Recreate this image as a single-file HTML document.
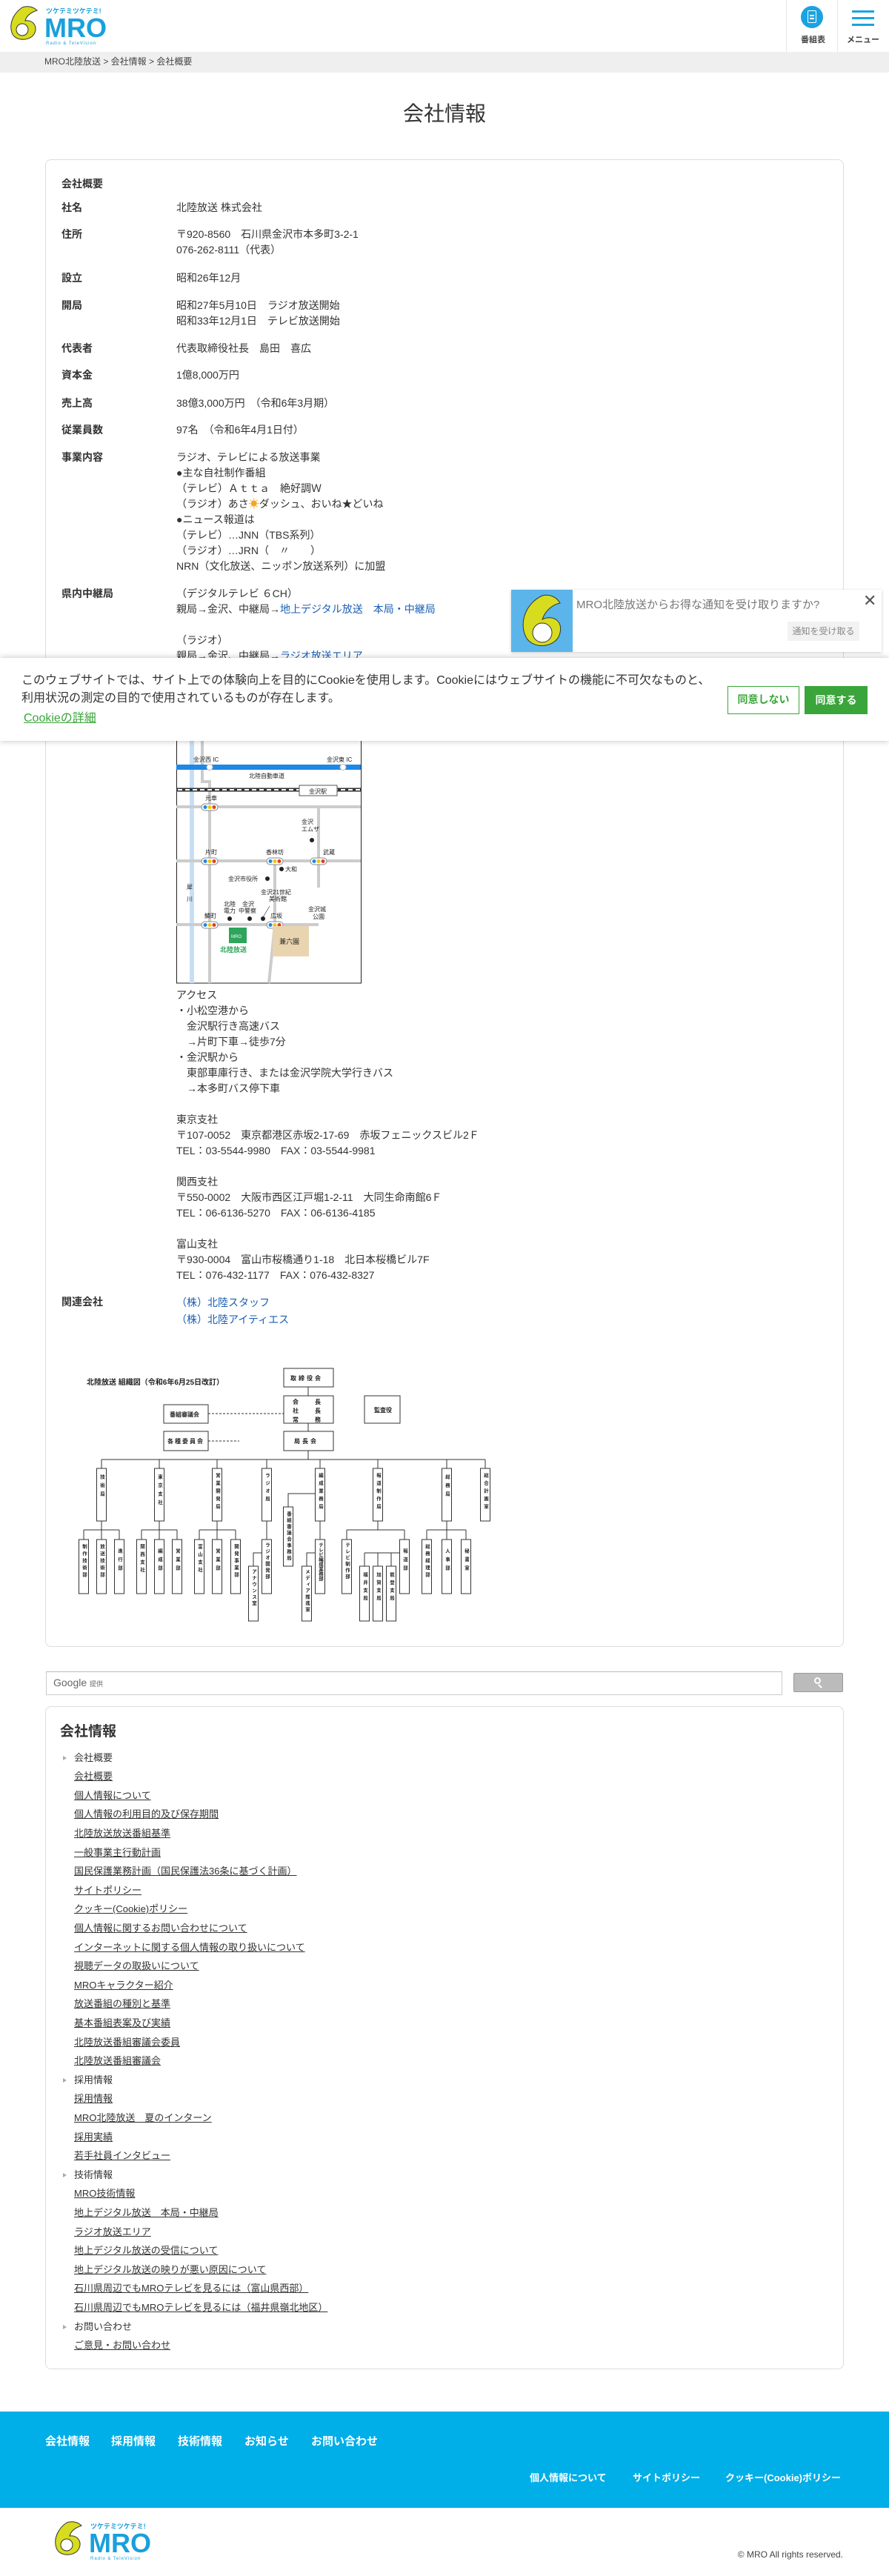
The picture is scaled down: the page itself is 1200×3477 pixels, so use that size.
<!DOCTYPE html>
<html><head><meta charset="utf-8"><style>
*{margin:0;padding:0;box-sizing:border-box}
body{width:1200px;height:3477px;position:relative;background:#fff;font-family:"Liberation Sans","Noto Sans CJK JP",sans-serif;color:#333;overflow:hidden}
.a{position:absolute;white-space:nowrap}
.t{font-size:14px;line-height:21px}
.b{font-weight:bold}
.lk{color:#1a5fb4}
.sl{position:absolute;left:100px;font-size:13px;color:#333;text-decoration:underline;white-space:nowrap;line-height:16px}
.sh{position:absolute;left:100px;font-size:13px;color:#333;white-space:nowrap;line-height:16px}
.tri{position:absolute;left:85px;width:0;height:0;border-left:5px solid #aaa;border-top:3px solid transparent;border-bottom:3px solid transparent}
</style></head><body>

<!-- header -->
<svg class="a" style="left:10px;top:6px" width="142" height="56" viewBox="0 0 142 56">
<path d="M20 4 C8 12 2 26 6 38 C10 50 30 50 36 40 C42 30 34 20 24 22 C26 14 34 10 40 8 C34 2 26 2 20 4Z" fill="#d7dc1f" stroke="#333" stroke-width="1"/>
<circle cx="20" cy="34" r="8" fill="#fff" stroke="#333"/>
<text x="52" y="12" font-size="9" fill="#19a0dc" font-weight="bold">ツケテミツケテミ!</text>
<text x="50" y="44" font-size="36" fill="#19a0dc" font-weight="bold" font-family="Liberation Sans">MRO</text>
<text x="52" y="54" font-size="6" fill="#19a0dc" letter-spacing="1">Radio &amp; TeleVision</text>
</svg>
<div class="a" style="left:1061px;top:0;width:1px;height:70px;background:#e5e5e5"></div>
<div class="a" style="left:1130px;top:0;width:1px;height:70px;background:#e5e5e5"></div>
<div class="a" style="left:1081px;top:8px;width:30px;height:30px;border-radius:50%;background:#1aa3e0"></div>
<div class="a" style="left:1090px;top:14px;width:12px;height:17px;border:1.5px solid #fff;border-radius:2px"></div>
<div class="a" style="left:1093px;top:20px;width:6px;height:1.5px;background:#fff"></div>
<div class="a" style="left:1093px;top:24px;width:6px;height:1.5px;background:#fff"></div>
<div class="a b" style="left:1081px;top:45px;font-size:11px;color:#444;width:30px;text-align:center">番組表</div>
<div class="a" style="left:1150px;top:14px;width:30px;height:2.5px;background:#1aa3e0"></div>
<div class="a" style="left:1150px;top:23px;width:30px;height:2.5px;background:#1aa3e0"></div>
<div class="a" style="left:1150px;top:32px;width:30px;height:2.5px;background:#1aa3e0"></div>
<div class="a b" style="left:1140px;top:45px;font-size:11px;color:#444;width:50px;text-align:center">メニュー</div>
<div class="a" style="left:0;top:70px;width:1200px;height:28px;background:#efefef"></div>
<div class="a" style="left:60px;top:73px;font-size:12px;line-height:20px;color:#444">MRO北陸放送 &gt; 会社情報 &gt; 会社概要</div>

<div class="a" style="left:0;top:136px;width:1200px;text-align:center;font-size:28px;line-height:36px;color:#333">会社情報</div>

<!-- card -->
<div class="a" style="left:61px;top:215px;width:1078px;height:2008px;border:1px solid #ddd;border-radius:8px"></div>

<div class="a t b" style="left:83px;top:238px">会社概要</div>
<div class="a t b" style="left:83px;top:270px">社名</div><div class="a t" style="left:238px;top:270px">北陸放送 株式会社</div>
<div class="a t b" style="left:83px;top:306px">住所</div><div class="a t" style="left:238px;top:306px">〒920-8560　石川県金沢市本多町3-2-1<br>076-262-8111（代表）</div>
<div class="a t b" style="left:83px;top:365px">設立</div><div class="a t" style="left:238px;top:365px">昭和26年12月</div>
<div class="a t b" style="left:83px;top:402px">開局</div><div class="a t" style="left:238px;top:402px">昭和27年5月10日　ラジオ放送開始<br>昭和33年12月1日　テレビ放送開始</div>
<div class="a t b" style="left:83px;top:460px">代表者</div><div class="a t" style="left:238px;top:460px">代表取締役社長　島田　喜広</div>
<div class="a t b" style="left:83px;top:496px">資本金</div><div class="a t" style="left:238px;top:496px">1億8,000万円</div>
<div class="a t b" style="left:83px;top:534px">売上高</div><div class="a t" style="left:238px;top:534px">38億3,000万円　（令和6年3月期）</div>
<div class="a t b" style="left:83px;top:570px">従業員数</div><div class="a t" style="left:238px;top:570px">97名　（令和6年4月1日付）</div>
<div class="a t b" style="left:83px;top:607px">事業内容</div><div class="a t" style="left:238px;top:607px">ラジオ、テレビによる放送事業<br>●主な自社制作番組<br>（テレビ）Ａｔｔａ　絶好調Ｗ<br>（ラジオ）あさ<span style="color:#f5a623">☀</span>ダッシュ、おいね★どいね<br>●ニュース報道は<br>（テレビ）…JNN（TBS系列）<br>（ラジオ）…JRN（　〃　　）<br>NRN（文化放送、ニッポン放送系列）に加盟</div>
<div class="a t b" style="left:83px;top:791px">県内中継局</div><div class="a t" style="left:238px;top:791px">（デジタルテレビ ６CH）<br>親局→金沢、中継局→<span class="lk">地上デジタル放送　本局・中継局</span><br><br>（ラジオ）<br>親局→金沢、中継局→<span class="lk">ラジオ放送エリア</span></div>

<!-- map -->
<svg class="a" style="left:238px;top:895px" width="250" height="433" viewBox="238 895 250 433" font-family="Liberation Sans,Noto Sans CJK JP,sans-serif" font-size="8" fill="#222">
<rect x="238.5" y="895" width="249" height="432" fill="#fff" stroke="#222"/>
<rect x="256" y="895" width="6" height="432" fill="#c8def5"/>
<path d="M273 895 V1055 H283 V1327" stroke="#ccc" stroke-width="4" fill="none"/>
<path d="M238 1089 H487 M238 1162 H487 M238 1248 H430 M430 1089 V1198 M371 1162 V1248 L363 1327" stroke="#ccc" stroke-width="4" fill="none"/>
<rect x="238" y="1032" width="249" height="7" fill="#1e88e5"/>
<circle cx="283" cy="1035.5" r="4" fill="#fff" stroke="#bbb"/><circle cx="463" cy="1035.5" r="4" fill="#fff" stroke="#bbb"/>
<rect x="238" y="1063.5" width="249" height="5" fill="#333"/>
<path d="M240 1066 H487" stroke="#fff" stroke-width="2" stroke-dasharray="6 4"/>
<rect x="404" y="1060" width="51" height="14" fill="#fff" stroke="#555"/>
<text x="417" y="1071">金沢駅</text>
<text x="261" y="1028">金沢西 IC</text><text x="441" y="1028">金沢東 IC</text>
<text x="336" y="1050">北陸自動車道</text>
<g id="st"><rect x="272" y="1085" width="22" height="9" rx="4.5" fill="#fff" stroke="#888"/><circle cx="277" cy="1089.5" r="2.5" fill="#1e88e5"/><circle cx="283" cy="1089.5" r="2.5" fill="#f5c400"/><circle cx="289" cy="1089.5" r="2.5" fill="#e04020"/></g>
<use href="#st" x="0" y="73"/><use href="#st" x="88" y="73"/><use href="#st" x="147" y="73"/><use href="#st" x="0" y="159"/><use href="#st" x="88" y="159"/>
<text x="277" y="1080">元車</text><text x="277" y="1153">片町</text><text x="359" y="1153">香林坊</text><text x="436" y="1153">武蔵</text>
<text x="407" y="1112">金沢</text><text x="407" y="1122">エムザ</text><circle cx="421" cy="1134" r="3"/>
<circle cx="380" cy="1173" r="3"/><text x="385" y="1176">大和</text>
<text x="308" y="1189">金沢市役所</text><circle cx="361" cy="1186" r="3"/>
<text x="352" y="1207">金沢21世紀</text><text x="363" y="1216">美術館</text>
<text x="302" y="1223">北陸</text><text x="302" y="1232">電力</text><text x="327" y="1223">金沢</text><text x="322" y="1232">中警察</text>
<circle cx="310" cy="1240" r="3"/><circle cx="337" cy="1240" r="3"/><circle cx="355" cy="1240" r="3"/><path d="M355 1238 L364 1223" stroke="#222" stroke-width="0.6"/>
<text x="276" y="1239">鱗町</text><text x="365" y="1239">広坂</text>
<text x="416" y="1230">金沢城</text><text x="422" y="1240">公園</text>
<text x="252" y="1200">犀</text><text x="252" y="1216">川</text>
<rect x="368" y="1250" width="49" height="41" fill="#e8d5b0"/><text x="377" y="1274" font-size="9">兼六園</text>
<rect x="309" y="1252" width="24" height="21" fill="#2da55a"/><text x="312" y="1266" font-size="6" fill="#fff">MRO</text>
<text x="297" y="1285" font-size="9" fill="#2da55a" font-weight="bold">北陸放送</text>
</svg>

<div class="a t" style="left:238px;top:1333px">アクセス<br>・小松空港から<br>　金沢駅行き高速バス<br>　→片町下車→徒歩7分<br>・金沢駅から<br>　東部車庫行き、または金沢学院大学行きバス<br>　→本多町バス停下車<br><br>東京支社<br>〒107-0052　東京都港区赤坂2-17-69　赤坂フェニックスビル2Ｆ<br>TEL：03-5544-9980　FAX：03-5544-9981<br><br>関西支社<br>〒550-0002　大阪市西区江戸堀1-2-11　大同生命南館6Ｆ<br>TEL：06-6136-5270　FAX：06-6136-4185<br><br>富山支社<br>〒930-0004　富山市桜橋通り1-18　北日本桜橋ビル7F<br>TEL：076-432-1177　FAX：076-432-8327</div>
<div class="a t b" style="left:83px;top:1747px">関連会社</div><div class="a t lk" style="left:238px;top:1747px;line-height:23px">（株）北陸スタッフ<br>（株）北陸アイティエス</div>

<!-- org chart -->
<svg class="a" style="left:0;top:1830px" width="700" height="370" viewBox="0 1830 700 370" font-family="Liberation Sans,Noto Sans CJK JP,sans-serif" font-weight="bold" fill="#222">
<g stroke="#333" stroke-width="1" fill="none">
<rect x="383" y="1847" width="67" height="25" fill="#fff"/>
<rect x="383" y="1884" width="67" height="37" fill="#fff"/>
<rect x="492" y="1884" width="48" height="37" fill="#fff"/>
<rect x="221" y="1896" width="60" height="25" fill="#fff"/>
<rect x="221" y="1932" width="60" height="26" fill="#fff"/>
<rect x="383" y="1932" width="67" height="26" fill="#fff"/>
<path d="M416 1872V1884M416 1921V1932M416 1958V1970M137 1970H655"/>
<path d="M281 1908H383M281 1945H323" stroke-dasharray="3 2"/>
<path d="M137 1970V1982M215 1970V1982M293 1970V1982M360 1970V1982M432 1970V1982M510 1970V1982M603 1970V1982M655 1970V1982"/>
<path d="M137 2053V2065M113 2065H161M113 2065V2078M137 2065V2078M161 2065V2078"/>
<path d="M215 2053V2065M191 2065H239M191 2065V2078M215 2065V2078M239 2065V2078"/>
<path d="M293 2053V2065M269 2065H318M269 2065V2078M293 2065V2078M318 2065V2078"/>
<path d="M360 2053V2078M360 2096H342V2114"/>
<path d="M432 2016H389V2034M432 2053V2078M432 2096H414V2114"/>
<path d="M510 2053V2065M468 2065H546M468 2065V2078M546 2065V2078M546 2096H492M492 2096V2114M510 2096V2114M528 2096V2114"/>
<path d="M603 2053V2065M576 2065H629M576 2065V2078M603 2065V2078M629 2065V2078"/>
</g>
<g font-size="8"><text x="392" y="1863" letter-spacing="3">取締役会</text>
<text x="395" y="1895">会</text><text x="425" y="1895">長</text><text x="395" y="1907">社</text><text x="425" y="1907">長</text><text x="395" y="1919">常</text><text x="425" y="1919">務</text>
<text x="505" y="1906">監査役</text><text x="229" y="1912">番組審議会</text><text x="226" y="1948" letter-spacing="2">各種委員会</text><text x="397" y="1948" letter-spacing="3">局長会</text></g>
<text x="117" y="1869" font-size="10">北陸放送 組織図（令和6年6月25日改訂）</text>
<g stroke="#333" fill="#fff">
<rect x="130.5" y="1982" width="13" height="71"/><rect x="208.5" y="1982" width="13" height="71"/><rect x="286.5" y="1982" width="13" height="71"/><rect x="353.5" y="1982" width="13" height="71"/><rect x="425.5" y="1982" width="13" height="71"/><rect x="503.5" y="1982" width="13" height="71"/><rect x="596.5" y="1982" width="13" height="71"/><rect x="648.5" y="1982" width="13" height="71"/>
<rect x="382.5" y="2034" width="13" height="80"/>
<rect x="106.5" y="2078" width="13" height="73"/><rect x="130.5" y="2078" width="13" height="73"/><rect x="154.5" y="2078" width="13" height="73"/>
<rect x="184.5" y="2078" width="13" height="73"/><rect x="208.5" y="2078" width="13" height="73"/><rect x="232.5" y="2078" width="13" height="73"/>
<rect x="262.5" y="2078" width="13" height="73"/><rect x="286.5" y="2078" width="13" height="73"/><rect x="311.5" y="2078" width="13" height="73"/>
<rect x="353.5" y="2078" width="13" height="73"/><rect x="425.5" y="2078" width="13" height="73"/><rect x="461.5" y="2078" width="13" height="73"/><rect x="539.5" y="2078" width="13" height="73"/>
<rect x="569.5" y="2078" width="13" height="73"/><rect x="596.5" y="2078" width="13" height="73"/><rect x="622.5" y="2078" width="13" height="73"/>
<rect x="335.5" y="2114" width="13" height="74"/><rect x="407.5" y="2114" width="13" height="74"/><rect x="485.5" y="2114" width="13" height="74"/><rect x="503.5" y="2114" width="13" height="74"/><rect x="521.5" y="2114" width="13" height="74"/>
</g>
<g font-size="6.5" style="writing-mode:vertical-rl" letter-spacing="5">
<text x="137" y="1990">技術局</text><text x="215" y="1990">東京支社</text><text x="293" y="1988" letter-spacing="4">営業開発局</text><text x="360" y="1988" letter-spacing="4">ラジオ局</text><text x="432" y="1988" letter-spacing="4">編成業務局</text><text x="510" y="1988" letter-spacing="4">報道制作局</text><text x="603" y="1990">総務局</text><text x="655" y="1988" letter-spacing="4">総合計画室</text>
<text x="389" y="2040" letter-spacing="2">番組審議会事務局</text>
<text x="113" y="2084" letter-spacing="3">制作技術部</text><text x="137" y="2084" letter-spacing="3">放送技術部</text><text x="161" y="2090">進行部</text>
<text x="191" y="2084" letter-spacing="4">関西支社</text><text x="215" y="2090">編成部</text><text x="239" y="2090">営業部</text>
<text x="269" y="2084" letter-spacing="4">富山支社</text><text x="293" y="2090">営業部</text><text x="318" y="2084" letter-spacing="3">開発事業部</text>
<text x="360" y="2082" letter-spacing="2">ラジオ開発部</text><text x="432" y="2082" letter-spacing="0">テレビ編成業務部</text><text x="468" y="2082" letter-spacing="2">テレビ制作部</text><text x="546" y="2090">報道部</text>
<text x="576" y="2084" letter-spacing="3">総務経理部</text><text x="603" y="2090">人事部</text><text x="629" y="2090">秘書室</text>
<text x="342" y="2118" letter-spacing="2">アナウンス室</text><text x="414" y="2118" letter-spacing="2">メディア推進室</text><text x="492" y="2122" letter-spacing="4">福井支局</text><text x="510" y="2122" letter-spacing="4">加賀支局</text><text x="528" y="2122" letter-spacing="4">能登支局</text>
</g>
</svg>

<!-- cookie banner -->
<div class="a" style="left:0;top:888px;width:1200px;height:112px;background:#fff;box-shadow:0 0 8px rgba(0,0,0,.25)"></div>
<div class="a" style="left:29px;top:907px;font-size:16px;line-height:24px;color:#333">このウェブサイトでは、サイト上での体験向上を目的にCookieを使用します。Cookieにはウェブサイトの機能に不可欠なものと、<br>利用状況の測定の目的で使用されているものが存在します。</div>
<div class="a" style="left:32px;top:959px;font-size:16px;line-height:22px;color:#3aa53a;text-decoration:underline">Cookieの詳細</div>
<div class="a b" style="left:982px;top:926px;width:97px;height:38px;border:1.5px solid #3aa53a;color:#3aa53a;font-size:14px;line-height:35px;text-align:center">同意しない</div>
<div class="a b" style="left:1086px;top:926px;width:85px;height:38px;background:#3aa53a;color:#fff;font-size:14px;line-height:38px;text-align:center">同意する</div>

<!-- notification -->
<div class="a" style="left:690px;top:796px;width:500px;height:84px;background:#fff;box-shadow:0 1px 4px rgba(0,0,0,.2)"></div>
<div class="a" style="left:690px;top:796px;width:83px;height:84px;background:#5bb5ea"></div>
<svg class="a" style="left:696px;top:800px" width="72" height="78" viewBox="0 0 72 78"><path d="M36 4 C14 14 4 40 14 60 C24 78 56 74 60 54 C64 36 48 30 36 36 C40 24 50 16 60 14 C54 4 44 2 36 4Z" fill="#d7dc1f" stroke="#333"/><circle cx="36" cy="54" r="13" fill="#fff" stroke="#333"/></svg>
<div class="a" style="left:778px;top:806px;font-size:15px;line-height:22px;color:#777">MRO北陸放送からお得な通知を受け取りますか?</div>
<div class="a" style="left:1165px;top:798px;font-size:22px;color:#555;line-height:26px">✕</div>
<div class="a" style="left:1063px;top:839px;width:97px;height:26px;background:#f2f2f2;color:#888;font-size:12px;line-height:26px;text-align:center">通知を受け取る</div>

<!-- search -->
<div class="a" style="left:62px;top:2256px;width:994px;height:32px;border:1px solid #ccc;border-top-color:#bbb"></div>
<div class="a" style="left:72px;top:2262px;font-size:14px;color:#666;line-height:18px">Google <span style="font-size:9px">提供</span></div>
<div class="a" style="left:1071px;top:2258px;width:67px;height:26px;background:#bbb;border:1px solid #999;border-radius:2px"></div>
<div class="a" style="left:1099px;top:2264px;width:9px;height:9px;border:2px solid #fff;border-radius:50%"></div>
<div class="a" style="left:1106px;top:2273px;width:2px;height:6px;background:#fff;transform:rotate(-45deg)"></div>

<!-- sidebar card -->
<div class="a" style="left:61px;top:2303px;width:1078px;height:895px;border:1px solid #ddd;border-radius:8px"></div>
<div class="a b" style="left:81px;top:2325px;font-size:19px;line-height:26px;color:#333">会社情報</div>
<div class="tri" style="top:2370px"></div><div class="sh" style="top:2365px">会社概要</div>
<div class="sl" style="top:2390px">会社概要</div>
<div class="sl" style="top:2416px">個人情報について</div>
<div class="sl" style="top:2441px">個人情報の利用目的及び保存期間</div>
<div class="sl" style="top:2467px">北陸放送放送番組基準</div>
<div class="sl" style="top:2493px">一般事業主行動計画</div>
<div class="sl" style="top:2518px">国民保護業務計画（国民保護法36条に基づく計画）</div>
<div class="sl" style="top:2544px">サイトポリシー</div>
<div class="sl" style="top:2569px">クッキー(Cookie)ポリシー</div>
<div class="sl" style="top:2595px">個人情報に関するお問い合わせについて</div>
<div class="sl" style="top:2621px">インターネットに関する個人情報の取り扱いについて</div>
<div class="sl" style="top:2646px">視聴データの取扱いについて</div>
<div class="sl" style="top:2672px">MROキャラクター紹介</div>
<div class="sl" style="top:2697px">放送番組の種別と基準</div>
<div class="sl" style="top:2723px">基本番組表案及び実績</div>
<div class="sl" style="top:2749px">北陸放送番組審議会委員</div>
<div class="sl" style="top:2774px">北陸放送番組審議会</div>
<div class="tri" style="top:2805px"></div><div class="sh" style="top:2800px">採用情報</div>
<div class="sl" style="top:2825px">採用情報</div>
<div class="sl" style="top:2851px">MRO北陸放送　夏のインターン</div>
<div class="sl" style="top:2877px">採用実績</div>
<div class="sl" style="top:2902px">若手社員インタビュー</div>
<div class="tri" style="top:2933px"></div><div class="sh" style="top:2928px">技術情報</div>
<div class="sl" style="top:2953px">MRO技術情報</div>
<div class="sl" style="top:2979px">地上デジタル放送　本局・中継局</div>
<div class="sl" style="top:3005px">ラジオ放送エリア</div>
<div class="sl" style="top:3030px">地上デジタル放送の受信について</div>
<div class="sl" style="top:3056px">地上デジタル放送の映りが悪い原因について</div>
<div class="sl" style="top:3081px">石川県周辺でもMROテレビを見るには（富山県西部）</div>
<div class="sl" style="top:3107px">石川県周辺でもMROテレビを見るには（福井県嶺北地区）</div>
<div class="tri" style="top:3138px"></div><div class="sh" style="top:3133px">お問い合わせ</div>
<div class="sl" style="top:3158px">ご意見・お問い合わせ</div>

<!-- footer -->
<div class="a" style="left:0;top:3255px;width:1200px;height:130px;background:#00aee8"></div>
<div class="a b" style="left:61px;top:3285px;font-size:15px;line-height:22px;color:#fff">会社情報</div>
<div class="a b" style="left:150px;top:3285px;font-size:15px;line-height:22px;color:#fff">採用情報</div>
<div class="a b" style="left:240px;top:3285px;font-size:15px;line-height:22px;color:#fff">技術情報</div>
<div class="a b" style="left:330px;top:3285px;font-size:15px;line-height:22px;color:#fff">お知らせ</div>
<div class="a b" style="left:420px;top:3285px;font-size:15px;line-height:22px;color:#fff">お問い合わせ</div>
<div class="a b" style="left:715px;top:3335px;font-size:13px;line-height:20px;color:#fff">個人情報について</div>
<div class="a b" style="left:854px;top:3335px;font-size:13px;line-height:20px;color:#fff">サイトポリシー</div>
<div class="a b" style="left:979px;top:3335px;font-size:13px;line-height:20px;color:#fff">クッキー(Cookie)ポリシー</div>
<svg class="a" style="left:70px;top:3400px" width="142" height="58" viewBox="0 0 142 56">
<path d="M20 4 C8 12 2 26 6 38 C10 50 30 50 36 40 C42 30 34 20 24 22 C26 14 34 10 40 8 C34 2 26 2 20 4Z" fill="#d7dc1f" stroke="#333" stroke-width="1"/>
<circle cx="20" cy="34" r="8" fill="#fff" stroke="#333"/>
<text x="52" y="12" font-size="9" fill="#19a0dc" font-weight="bold">ツケテミツケテミ!</text>
<text x="50" y="44" font-size="36" fill="#19a0dc" font-weight="bold" font-family="Liberation Sans">MRO</text>
<text x="52" y="54" font-size="6" fill="#19a0dc" letter-spacing="1">Radio &amp; TeleVision</text>
</svg>
<div class="a" style="right:62px;top:3440px;font-size:12px;line-height:16px;color:#444">© MRO All rights reserved.</div>
</body></html>
